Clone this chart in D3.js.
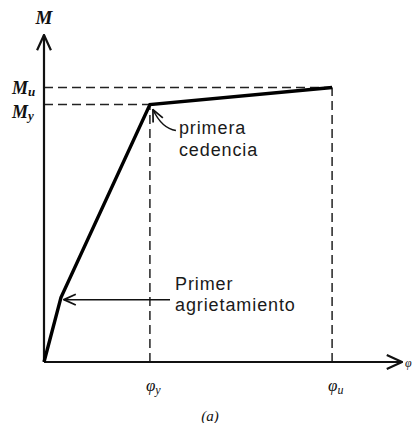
<!DOCTYPE html>
<html>
<head>
<meta charset="utf-8">
<script src="https://cdn.jsdelivr.net/npm/d3@7"></script>
<style>
  html, body { margin: 0; padding: 0; background: #fff; }
  svg { display: block; }
  .note { font-family: "Liberation Sans", Arial, sans-serif; font-size: 18px; letter-spacing: 0.9px; fill: #1a1a1a; }
  .sym { font-family: "Liberation Serif", "DejaVu Serif", serif; font-style: italic; fill: #111; }
</style>
</head>
<body>
<svg id="chart" width="414" height="423"></svg>
<script>
// Moment–curvature diagram of a reinforced concrete section
// (values normalised to the yield point).
const stageNames = ["origen", "agrietamiento", "cedencia", "última"];
const curvature  = [0, 0.16, 1.0, 2.72];     // φ / φy
const moment     = [0, 0.25, 1.0, 1.066];    // M / My
const axisMax    = { phi: 3.38, M: 1.27 };
const momentTicks    = [{ v: moment[3], base: "M", sub: "u" }, { v: moment[2], base: "M", sub: "y" }];
const curvatureTicks = [{ v: curvature[2], base: "φ", sub: "y" }, { v: curvature[3], base: "φ", sub: "u" }];

const svg = d3.select("#chart");
const x = d3.scaleLinear().domain([0, axisMax.phi]).range([44, 402]);
const y = d3.scaleLinear().domain([0, axisMax.M]).range([362, 35]);

// Arrow markers
const defs = svg.append("defs");
function chevron(id, size) {
  defs.append("marker")
    .attr("id", id).attr("viewBox", "-12 -6 13 12")
    .attr("refX", 0).attr("refY", 0)
    .attr("markerWidth", size).attr("markerHeight", size)
    .attr("markerUnits", "userSpaceOnUse")
    .attr("orient", "auto")
    .append("path").attr("d", "M-11,-5 L0,0 L-11,5")
    .attr("fill", "none").attr("stroke", "#111").attr("stroke-width", 1.6);
}
chevron("axisArrow", 18);
chevron("leaderArrow", 14);

// Dashed reference lines
const dash = "9,5";
const g = svg.append("g");
momentTicks.forEach((t, i) => {
  const xEnd = i === 0 ? x(curvature[3]) : x(curvature[2]);
  g.append("line").attr("x1", x(0)).attr("x2", xEnd)
    .attr("y1", y(t.v)).attr("y2", y(t.v))
    .attr("stroke", "#222").attr("stroke-width", 1.5).attr("stroke-dasharray", dash);
});
curvatureTicks.forEach((t, i) => {
  const yTop = i === 0 ? y(moment[2]) : y(moment[3]);
  g.append("line").attr("x1", x(t.v)).attr("x2", x(t.v))
    .attr("y1", y(0)).attr("y2", yTop)
    .attr("stroke", "#222").attr("stroke-width", 1.5).attr("stroke-dasharray", dash);
});

// Axes
g.append("line").attr("x1", x(0)).attr("y1", y(0)).attr("x2", x(0)).attr("y2", y(axisMax.M))
  .attr("stroke", "#111").attr("stroke-width", 2.2).attr("marker-end", "url(#axisArrow)");
g.append("line").attr("x1", x(0)).attr("y1", y(0)).attr("x2", x(axisMax.phi)).attr("y2", y(0))
  .attr("stroke", "#111").attr("stroke-width", 2.2).attr("marker-end", "url(#axisArrow)");

// Moment–curvature curve
const pts = curvature.map((c, i) => [c, moment[i]]);
g.append("path").datum(pts)
  .attr("d", d3.line().x(d => x(d[0])).y(d => y(d[1])))
  .attr("fill", "none").attr("stroke", "#000").attr("stroke-width", 3.4)
  .attr("stroke-linejoin", "miter");

// Axis titles
svg.append("text").attr("class", "sym").attr("x", x(0)).attr("y", 24)
  .attr("text-anchor", "middle").attr("font-size", 19).attr("font-weight", "bold").text("M");
svg.append("text").attr("class", "sym").attr("x", 405).attr("y", 367)
  .attr("font-size", 12).text("φ");

// Moment labels
momentTicks.forEach(t => {
  const txt = svg.append("text").attr("class", "sym").attr("x", 12)
    .attr("y", y(t.v) + (t.sub === "u" ? 6 : 13)).attr("font-size", 18).attr("font-weight", "bold");
  txt.append("tspan").text(t.base);
  txt.append("tspan").attr("font-size", 13).attr("dy", 2).text(t.sub);
});

// Curvature labels
curvatureTicks.forEach(t => {
  const txt = svg.append("text").attr("class", "sym").attr("x", x(t.v) - 4)
    .attr("y", 391).attr("font-size", 17);
  txt.append("tspan").text(t.base);
  txt.append("tspan").attr("font-size", 12).attr("dy", 3).text(t.sub);
});

// Annotation: first yield
const yieldPt = [x(curvature[2]), y(moment[2])];
svg.append("path")
  .attr("d", `M${yieldPt[0] + 26},${yieldPt[1] + 26} Q${yieldPt[0] + 12},${yieldPt[1] + 24} ${yieldPt[0] + 3},${yieldPt[1] + 5}`)
  .attr("fill", "none").attr("stroke", "#111").attr("stroke-width", 1.5)
  .attr("marker-end", "url(#leaderArrow)");
svg.append("text").attr("class", "note").attr("x", yieldPt[0] + 29).attr("y", 134).text("primera");
svg.append("text").attr("class", "note").attr("x", yieldPt[0] + 29).attr("y", 156).text("cedencia");

// Annotation: first cracking
const crackPt = [x(curvature[1]), y(moment[1])];
svg.append("line").attr("x1", 170).attr("y1", crackPt[1] + 2).attr("x2", crackPt[0] + 3).attr("y2", crackPt[1] + 2)
  .attr("stroke", "#111").attr("stroke-width", 1.5).attr("marker-end", "url(#leaderArrow)");
svg.append("text").attr("class", "note").attr("x", 175).attr("y", 290).text("Primer");
svg.append("text").attr("class", "note").attr("x", 175).attr("y", 311).text("agrietamiento");

// Figure caption
svg.append("text").attr("class", "sym").attr("x", 210).attr("y", 421)
  .attr("text-anchor", "middle").attr("font-size", 15).text("(a)");
</script>
</body>
</html>
